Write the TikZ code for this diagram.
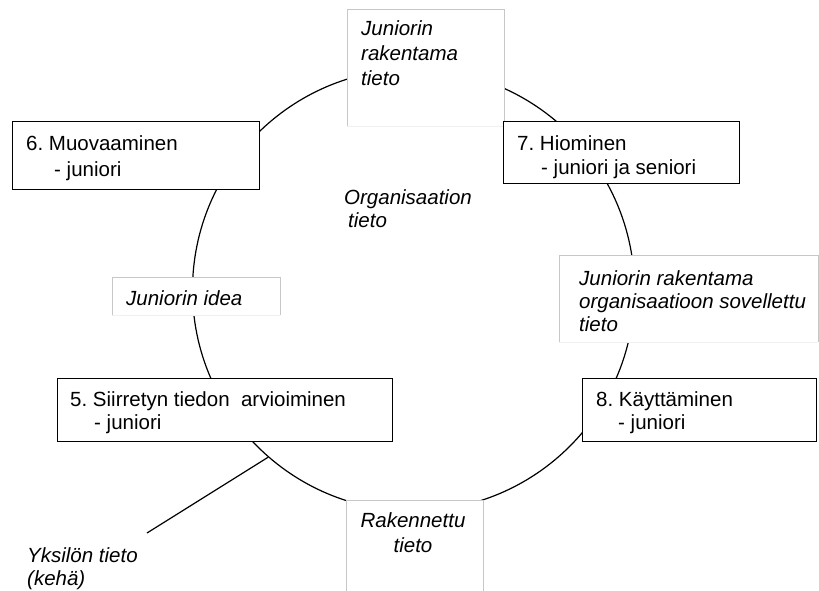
\documentclass[tikz,border=0pt]{standalone}
\usepackage{fontspec}
\setmainfont{Liberation Sans}
\frenchspacing
\begin{document}
\begin{tikzpicture}[x=1pt,y=-1pt,
  bbox/.style={draw=black, line width=1.2pt, fill=white, inner sep=0, anchor=north west},
  gbox/.style={fill=white, inner sep=0, anchor=north west},
  gline/.style={draw=black!22, line width=0.9pt},
  gline2/.style={draw=black!6, line width=0.9pt},
  t/.style={anchor=base west, inner sep=0, font=\fontsize{20.5}{24}\selectfont},
  ti/.style={anchor=base west, inner sep=0, font=\fontsize{20.5}{24}\selectfont\itshape},
  ring/.style={circle, draw=black, line width=1.2pt, inner sep=0, minimum size=442pt}]
\useasboundingbox (0,0) rectangle (819,591);
\node[ring] (cyc) at (413.5,290) {};
% line to individual knowledge
\coordinate (ye) at (147,533);
\draw[line width=1.2pt] (cyc.229) -- (ye);

% gray boxes
\node[gbox, minimum width=157pt, minimum height=117pt] (g1) at (347,9) {};
\draw[gline] (g1.south west) -- (g1.north west) -- (g1.north east) -- (g1.south east);
\draw[gline2] (g1.south west) -- (g1.south east);

\node[gbox, minimum width=168pt, minimum height=38pt] (g2) at (112,277) {};
\draw[gline] (g2.south west) -- (g2.north west) -- (g2.north east) -- (g2.south east);
\draw[gline2] (g2.south west) -- (g2.south east);

\node[gbox, minimum width=259pt, minimum height=87pt] (g3) at (559,255) {};
\draw[gline] (g3.south west) -- (g3.north west) -- (g3.north east) -- (g3.south east);
\draw[gline2] (g3.south west) -- (g3.south east);

\node[gbox, minimum width=137pt, minimum height=100pt] (g4) at (346,500) {};
\draw[gline] (g4.south west) -- (g4.north west) -- (g4.north east) -- (g4.south east);

% black boxes
\node[bbox, minimum width=247pt, minimum height=68pt] (b6) at (12,121) {};
\node[bbox, minimum width=236pt, minimum height=62pt] (b7) at (503,121) {};
\node[bbox, minimum width=335pt, minimum height=63pt] (b5) at (57,378) {};
\node[bbox, minimum width=234pt, minimum height=63pt] (b8) at (582,378) {};

% texts
\node[ti] (tj1) at (361,36) {Juniorin};
\node[ti] (tj2) at (361,61) {rakentama};
\node[ti] (tj3) at (361,86) {tieto};

\node[t] (t6a) at (26,150) {6. Muovaaminen};
\node[t] (t6b) at (54,176) {- juniori};

\node[t] (t7a) at (517,150) {7. Hiominen};
\node[t] (t7b) at (541,174) {- juniori ja seniori};

\node[ti] (to1) at (344,204) {Organisaation};
\node[ti] (to2) at (348,227) {tieto};

\node[ti] (tid) at (126,305) {Juniorin idea};

\node[ti] (tr1) at (579,285) {Juniorin rakentama};
\node[ti] (tr2) at (579,308) {organisaatioon sovellettu};
\node[ti] (tr3) at (579,331) {tieto};

\node[t] (t5a) at (70,406) {5. Siirretyn tiedon~ arvioiminen};
\node[t] (t5b) at (94,429) {- juniori};

\node[t] (t8a) at (596,406) {8. Käyttäminen};
\node[t] (t8b) at (618,429) {- juniori};

\node[ti, anchor=base] (tk1) at (413,527) {Rakennettu};
\node[ti, anchor=base] (tk2) at (413,552) {tieto};

\node[ti] (ty1) at (27,562) {Yksilön tieto};
\node[ti] (ty2) at (27,585) {(kehä)};
\end{tikzpicture}
\end{document}
